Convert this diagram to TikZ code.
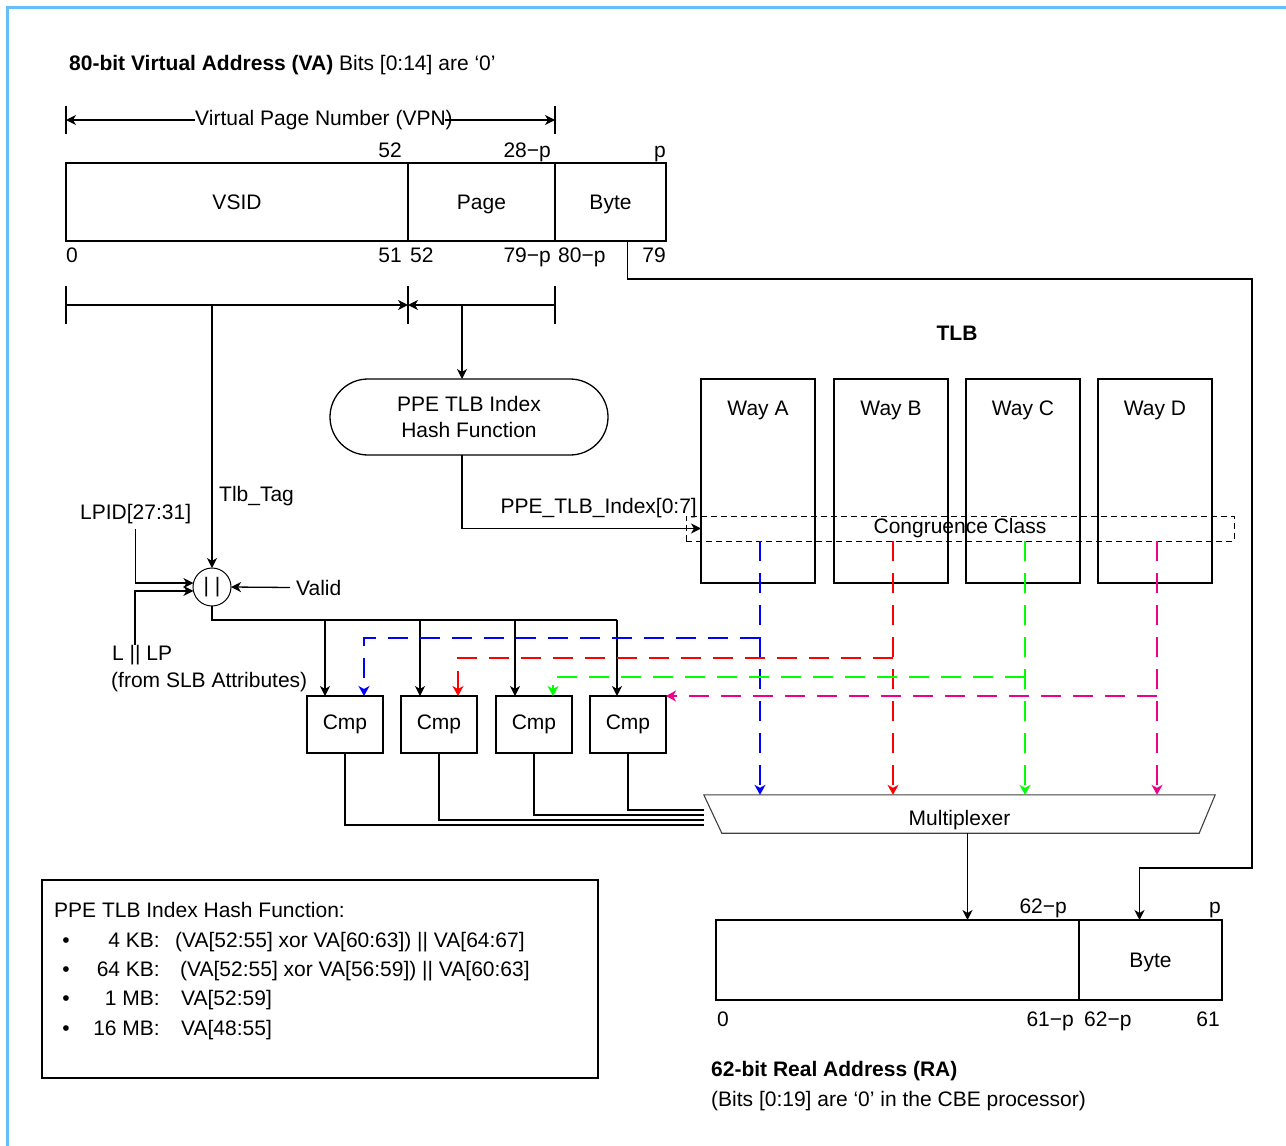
\documentclass[tikz,border=0pt]{standalone}
\usepackage{fontspec}
\setmainfont{Liberation Sans}
\usetikzlibrary{arrows.meta}
\definecolor{frameblue}{RGB}{100,190,250}
\tikzset{
  lbl/.style={inner sep=0pt},
  field/.style={draw, line width=1.3pt, inner sep=0pt, outer sep=0pt},
  wire/.style={line width=1.3pt},
  arr/.style={wire, -{Stealth[length=10pt,width=10pt,inset=3pt]}},
  tap/.style={line width=1.4pt, dash pattern=on 20pt off 12pt, -{Stealth[length=10pt,width=11pt,inset=3pt]}},
}
\begin{document}
\begin{tikzpicture}[x=1pt, y=-1pt, font=\fontsize{21}{26}\selectfont]
\useasboundingbox (0,0) rectangle (1286,1146);
\draw[frameblue, line width=2.5pt] (7.5,1146) -- (7.5,7.5) -- (1286,7.5);

\node[lbl, anchor=base west] (vatitle) at (69,70) {\textbf{80-bit Virtual Address (VA)} Bits [0:14] are ‘0’};

\node[field, text height=15pt, text depth=0pt, minimum width=342, minimum height=78, anchor=north west] (vsid) at (66,163) {VSID};
\node[field, text height=15pt, text depth=0pt, minimum width=147, minimum height=78, anchor=north west] (vapage) at (vsid.north east) {Page};
\node[field, text height=15pt, text depth=0pt, minimum width=111, minimum height=78, anchor=north west] (vabyte) at (vapage.north east) {Byte};
\foreach \x/\t in {402/52,551/28−p,666/p}
    \node[lbl, anchor=base east] at (\x,157) {\t};
\node[lbl, anchor=base west] at (66,262) {0};
\node[lbl, anchor=base east] at (402,262) {51};
\node[lbl, anchor=base west] at (410,262) {52};
\node[lbl, anchor=base east] at (551,262) {79−p};
\node[lbl, anchor=base west] at (558,262) {80−p};
\node[lbl, anchor=base east] at (666,262) {79};

\node[lbl] (vpn) at (324,120) {Virtual Page Number (VPN)};
\coordinate (vpnL) at (66,120);
\coordinate (vpnR) at (555,120);
\foreach \p in {vpnL,vpnR}
    \draw[wire] ([yshift=14pt]\p) -- ([yshift=-14pt]\p);
\draw[arr] (vpn.west) -- (vpn.west -| vpnL);
\draw[arr] ([xshift=-8pt]vpn.east) -- (vpn.east -| vpnR);

\coordinate (brL) at (66,305);
\coordinate (brM) at (408,305);
\coordinate (brR) at (555,305);
\foreach \p in {brL,brM,brR}
    \draw[wire] ([yshift=19pt]\p) -- ([yshift=-19pt]\p);
\draw[arr] (brL) -- (brM);
\draw[arr] (brR) -- (brM);

\node[field, rounded corners=38, minimum width=278, minimum height=76, align=center] (hash) at (469,417) {PPE TLB Index\\Hash Function};
\draw[arr] ([xshift=-7pt]hash.north |- brM) -- ([xshift=-7pt]hash.north);

\node[field, line width=1pt, circle, minimum size=38] (orgate) at (212,587) {| |};
\draw[arr] (orgate.north |- brL) -- (orgate.north);
\node[lbl, anchor=base west] (tag) at (219,501) {Tlb\_Tag};

\node[lbl, anchor=base west] (lpid) at (80,519) {LPID[27:31]};
\draw[arr] ([yshift=-5pt]lpid.south) |- (orgate.168);
\node[lbl, anchor=base west] (slbA) at (112,660) {L || LP};
\node[lbl, anchor=base west] (slbB) at (111,687) {(from SLB Attributes)};
\draw[arr] (slbA.north west) ++(23,0) |- (orgate.192);
\node[lbl, anchor=base west] (valid) at (296,595) {Valid};
\draw[arr] ([xshift=-6pt]valid.west) -- (orgate.east);

\node[lbl] (tlb) at (957,333) {\textbf{TLB}};
\foreach \w/\x in {A/758,B/891,C/1023,D/1155} {
    \node[field, minimum width=114, minimum height=204] (way\w) at (\x,481) {};
    \node[lbl, anchor=base] at ([yshift=-36pt]way\w.north) {Way \w};
}
\node[field, line width=1pt, dash pattern=on 6pt off 4pt, minimum width=548, minimum height=25] (cc) at (960,528.5) {Congruence Class};

\draw[arr] ([xshift=-7pt]hash.south) |- (cc.west -| wayA.west);
\node[lbl, anchor=base east] (idx) at (697,513) {PPE\_TLB\_Index[0:7]};

\node[minimum width=511, minimum height=38, inner sep=0pt, text height=23pt, text depth=0pt] (mux) at (959.5,814) {Multiplexer};
\draw[line width=1.1pt, black!75] (mux.north west) -- (mux.north east) -- ([xshift=-16pt]mux.south east) -- ([xshift=18pt]mux.south west) -- cycle;

\foreach \c/\x in {A/345,B/439,C/534,D/628}
    \node[field, minimum width=76, minimum height=57] (cmp\c) at (\x,724.5) {Cmp};

\coordinate (bus) at (212,620);
\draw[wire] (orgate.south) |- ([xshift=-11pt]cmpD.north |- bus);
\foreach \c/\dx in {A/-20,B/-19,C/-19,D/-11}
    \draw[arr] ([xshift=\dx pt]cmp\c.north |- bus) -- ([xshift=\dx pt]cmp\c.north);

\foreach \w/\col in {A/blue,B/red,C/green,D/magenta}
    \draw[tap, \col] ([xshift=2pt]way\w.south |- cc.south) -- ([xshift=2pt]way\w.south |- mux.north);
\foreach \w/\col/\y in {A/blue/638,B/red/658,C/green/677}
    \draw[tap, \col] ([xshift=2pt]way\w.south |- 0,\y) -| ([xshift=19pt]cmp\w.north);
\draw[tap, magenta] ([xshift=2pt]wayD.south |- cmpD.north east) -- (cmpD.north east);

\foreach \c/\y in {A/825,B/820,C/815,D/810}
    \draw[wire] (cmp\c.south) |- (mux.north west |- 0,\y);

\node[field, minimum width=363, minimum height=80, anchor=north west] (rahi) at (716,920) {};
\node[field, text height=15pt, text depth=0pt, minimum width=143, minimum height=80, anchor=north west] (rabyte) at (rahi.north east) {Byte};
\draw[arr] ([xshift=8pt]mux.south) -- ([xshift=8pt]mux.south |- rahi.north);

\coordinate (bypass) at (1252,868);
\draw[arr] ([xshift=17pt]vabyte.south) |- (bypass |- 0,279) -- (bypass) -| ([xshift=-11pt]rabyte.north);

\node[lbl, anchor=base east] at (1067,913) {62−p};
\node[lbl, anchor=base east] at (1221,913) {p};
\node[lbl, anchor=base west] at (717,1026) {0};
\node[lbl, anchor=base east] at (1074,1026) {61−p};
\node[lbl, anchor=base west] at (1084,1026) {62−p};
\node[lbl, anchor=base east] at (1220,1026) {61};
\node[lbl, anchor=base west] (ratitle) at (711,1076) {\textbf{62-bit Real Address (RA)}};
\node[lbl, anchor=base west] (ranote) at (711,1106) {(Bits [0:19] are ‘0’ in the CBE processor)};

\node[field, minimum width=556, minimum height=198, anchor=north west] (legend) at (42,880) {};
\node[lbl, anchor=base west] (legtitle) at (54,917) {PPE TLB Index Hash Function:};
\foreach \sz/\xs/\expr [count=\i] in {4 KB:/175/{(VA[52:55] xor VA[60:63]) || VA[64:67]},64 KB:/180/{(VA[52:55] xor VA[56:59]) || VA[60:63]},1 MB:/181/{VA[52:59]},16 MB:/181/{VA[48:55]}} {
    \node[lbl, anchor=base] at (66,{918+29.3*\i}) {\textbullet};
    \node[lbl, anchor=base east] at (160,{918+29.3*\i}) {\sz};
    \node[lbl, anchor=base west] at (\xs,{918+29.3*\i}) {\expr};
}
\end{tikzpicture}
\end{document}
